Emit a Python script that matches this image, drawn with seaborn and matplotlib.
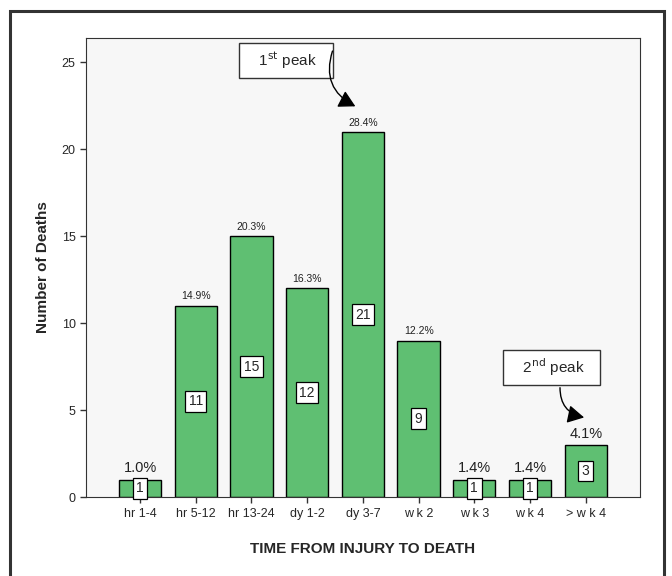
import numpy as np
import pandas as pd
import matplotlib.pyplot as plt
import matplotlib.patches as mpatches
import seaborn as sb

# data
periods = ['hr 1-4', 'hr 5-12', 'hr 13-24', 'dy 1-2', 'dy 3-7', 'w k 2', 'w k 3', 'w k 4', '> w k 4']
deaths = [1, 11, 15, 12, 21, 9, 1, 1, 3]
percents = ['1.0%', '14.9%', '20.3%', '16.3%', '28.4%', '12.2%', '1.4%', '1.4%', '4.1%']
big_pct = [True, False, False, False, False, False, True, True, True]

data = pd.DataFrame({'period': periods, 'deaths': deaths})

sb.set_style('white')
plt.rcParams['font.family'] = ['Liberation Sans', 'DejaVu Sans']

fig = plt.figure(figsize=(6.72, 5.76), dpi=100)
ax = fig.add_axes([0.128, 0.137, 0.824, 0.797])
ax.set_facecolor('#f7f7f7')

sb.barplot(data=data, x='period', y='deaths', color='#5fbf72', saturation=1,
           edgecolor='black', linewidth=1, width=0.76, ax=ax)

ax.set_xlim(-0.97, 8.97)
ax.set_ylim(0, 26.4)
ax.set_yticks([0, 5, 10, 15, 20, 25])
ax.tick_params(axis='both', direction='out', length=4, width=1, color='#333333',
               labelsize=9, bottom=True, left=True)
for s in ax.spines.values():
    s.set_color('#333333')
    s.set_linewidth(0.8)

ax.set_xlabel('TIME FROM INJURY TO DEATH', fontsize=11, fontweight='bold', labelpad=16)
ax.set_ylabel('Number of Deaths', fontsize=11, fontweight='bold', labelpad=8)

# labels on the bars
for i, bar in enumerate(ax.patches):
    h = bar.get_height()
    x = bar.get_x() + bar.get_width() / 2
    ax.text(x, h / 2, str(deaths[i]), ha='center', va='center', fontsize=10,
            bbox=dict(boxstyle='square,pad=0.25', fc='white', ec='black', lw=0.9))
    if big_pct[i]:
        ax.text(x, h + 0.25, percents[i], ha='center', va='bottom', fontsize=10.5, color='#222222')
    else:
        ax.text(x, h + 0.25, percents[i], ha='center', va='bottom', fontsize=7.5, color='#222222')

# peak call-outs
ax.text(2.62, 25.1, '   1$^{\\rm st}$ peak   ', ha='center', va='center', fontsize=11,
        bbox=dict(boxstyle='square,pad=0.45', fc='white', ec='#333333', lw=1))
ax.annotate('', xy=(3.91, 22.4), xytext=(3.47, 25.8),
            arrowprops=dict(arrowstyle='-|>,head_length=1.0,head_width=0.55', color='black',
                            lw=1, connectionstyle='arc3,rad=0.45'))
ax.text(7.38, 7.45, '   2$^{\\rm nd}$ peak   ', ha='center', va='center', fontsize=11,
        bbox=dict(boxstyle='square,pad=0.45', fc='white', ec='#333333', lw=1))
ax.annotate('', xy=(8.02, 4.55), xytext=(7.54, 6.45),
            arrowprops=dict(arrowstyle='-|>,head_length=1.0,head_width=0.55', color='black',
                            lw=1, connectionstyle='arc3,rad=0.45'))

# outer frame round the whole figure
frame = mpatches.Rectangle((10 / 672, -0.05), 654 / 672, 1.05 - 11 / 576, transform=fig.transFigure,
                           fill=False, ec='#333333', lw=2.2)
fig.patches.append(frame)

plt.savefig('out.png', dpi=100)
